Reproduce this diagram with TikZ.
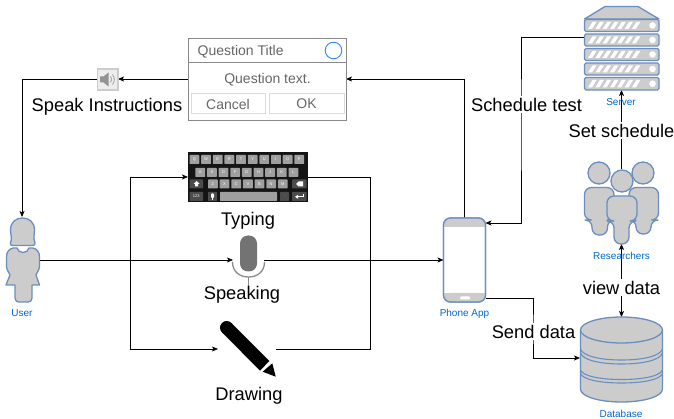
\documentclass[tikz,border=0pt]{standalone}
\usepackage{fontspec}
\setmainfont{Liberation Sans}
\usetikzlibrary{arrows.meta}
\definecolor{iconline}{HTML}{6C8EBF}
\definecolor{iconfill}{HTML}{CCCCCC}
\definecolor{labelblue}{HTML}{0066CC}
\definecolor{dlgtext}{HTML}{666666}
\definecolor{dlgline}{HTML}{888888}
\tikzset{
  conn/.style={draw=black,line width=0.7pt,-{Stealth[length=6pt,width=5pt,inset=1.5pt]}},
  plainline/.style={draw=black,line width=0.7pt},
  anchorbox/.style={inner sep=0pt,outer sep=0pt},
  biglabel/.style={font=\fontsize{18.3}{21}\selectfont,text=black,inner sep=1.5pt},
  biglabelw/.style={biglabel,fill=white},
  smalllabel/.style={font=\fontsize{10}{11}\selectfont,text=labelblue,inner sep=0pt},
  icon/.style={draw=iconline,fill=iconfill,line width=1.3pt,line join=round},
  dlgtxt/.style={font=\fontsize{14}{16}\selectfont,text=dlgtext,inner sep=0pt},
  keycap/.style={fill=#1,rounded corners=0.6pt},
  keytxt/.style={font=\fontsize{4}{4}\selectfont,text=white,inner sep=0pt},
}
\begin{document}
\begin{tikzpicture}[x=1pt,y=-1pt]
\useasboundingbox (0,0) rectangle (674,419);
% anchors
\node[anchorbox,minimum width=157.5pt,minimum height=82pt] (dialog) at (267.25,79) {};
\node[anchorbox,minimum width=21pt,minimum height=21pt] (speaker) at (107.5,79) {};
\node[anchorbox,minimum width=34pt,minimum height=86pt] (user) at (23,260) {};
\node[anchorbox,minimum width=120pt,minimum height=50pt] (keyboard) at (248,177) {};
\node[anchorbox,minimum width=31pt,minimum height=40pt] (mic) at (248.5,260) {};
\node[anchorbox,minimum width=58pt,minimum height=56pt] (pen) at (247,349) {};
\node[anchorbox,minimum width=42pt,minimum height=84pt] (phone) at (464.5,260) {};
\node[anchorbox,minimum width=75pt,minimum height=84pt] (server) at (621.5,48) {};
\node[anchorbox,minimum width=75pt,minimum height=75pt] (researchers) at (621.5,206.5) {};
\node[anchorbox,minimum width=83pt,minimum height=85pt] (database) at (621.5,359.5) {};
\coordinate (srvport) at (584,37);
\coordinate (phonein) at (485.5,223);
\coordinate (phoneout) at (485.5,298);
\coordinate (dbin) at (580,358);
\coordinate (leftbus) at (130,260);
\coordinate (rightbus) at (370,260);
\coordinate (userport) at (22,217);
\coordinate (schedbus) at (521,120);
\coordinate (sendbus) at (533,330);
% connectors
\draw[conn] (dialog.west) -- (speaker.east);
\draw[conn] (speaker.west) -| (userport);
\draw[conn] (user.east) -- (mic.west);
\draw[conn] (mic.east) -- (phone.west);
\draw[conn] (leftbus) |- (keyboard.west);
\draw[conn] (leftbus) |- (pen.west);
\draw[plainline] (keyboard.east) -| (rightbus);
\draw[plainline] (pen.east) -| (rightbus);
\draw[conn] (phone.north) |- (dialog.east);
\draw[conn] (srvport) -| (schedbus) |- (phonein);
\draw[conn] (phoneout) -| (sendbus) |- (dbin);
\draw[conn] (researchers.north) -- (server.south);
\draw[conn,{Stealth[length=6pt,width=5pt,inset=1.5pt]}-{Stealth[length=6pt,width=5pt,inset=1.5pt]}] (researchers.south) -- (database.north);
% dialog
\draw[draw=dlgline,fill=white,line width=0.9pt] (188.5,38) rectangle (346,120);
\draw[draw=dlgline,line width=0.9pt] (188.5,62.5) -- (346,62.5);
\draw[draw=iconfill!70,fill=white,line width=1pt] (191,93.5) rectangle (265,113.5);
\draw[draw=iconfill!70,fill=white,line width=1pt] (269,93.5) rectangle (344,113.5);
\draw[draw=blue!60!cyan!80,line width=0.9pt] (333.5,50.5) circle [radius=8.3];
\node[dlgtxt,anchor=west] (dtitle) at (197.5,51.7) {Question Title};
\node[dlgtxt] (dbody) at (267.5,79.5) {Question text.};
\node[dlgtxt] (dcancel) at (228,104) {Cancel};
\node[dlgtxt] (dok) at (306.5,104) {OK};
% speaker
\draw[draw=iconfill,fill=white!93!black,line width=1.2pt] (97.5,69) rectangle (118,90);
\fill[gray!85] (100,76.5) -- (103.5,76.5) -- (108.5,72.5) -- (108.5,86.5) -- (103.5,82.5) -- (100,82.5) -- cycle;
\draw[gray!70,line width=0.9pt] (110.5,76.5) .. controls (112,78.5) and (112,80.5) .. (110.5,82.5);
\draw[gray!70,line width=0.9pt] (112.5,74.5) .. controls (115,78) and (115,81) .. (112.5,84.5);
% user
\path[icon] (10.5,243) .. controls (12.5,238) and (10.5,234) .. (10.5,230) .. controls (10.5,222) and (16,218) .. (22.5,218) .. controls (29,218) and (34.5,222) .. (34.5,230) .. controls (34.5,234) and (33,238) .. (35,243) .. controls (35.5,245) and (34,245.5) .. (32,245.5) -- (13,245.5) .. controls (11,245.5) and (10,245) .. (10.5,243) -- cycle;
\path[icon] (13,248) -- (17,248) .. controls (18,254) and (28,254) .. (29,248) -- (33,248) .. controls (37,249) and (39.5,252) .. (39.5,257) -- (39.5,266) .. controls (39.5,270) and (37,272) .. (36,275) -- (39.5,285) -- (32,285) -- (32,298) .. controls (32,301) and (30,302) .. (28,302) -- (19,302) .. controls (17,302) and (15,301) .. (15,298) -- (15,285) -- (6,285) -- (10,275) .. controls (9,272) and (6.5,270) .. (6.5,266) -- (6.5,257) .. controls (6.5,252) and (9,249) .. (13,248) -- cycle;
% keyboard
\fill[black!92] (188,152) rectangle (308,202);
\foreach \n [count=\i from 0] in {Q,W,E,R,T,Y,U,I,O,P}{
  \fill[keycap=gray!75] ({189.5+11.65*\i},155) rectangle ++(9.8,9);
  \node[keytxt] (kq\i) at ({194.4+11.65*\i},159.5) {\n};
}
\foreach \n [count=\i from 0] in {A,S,D,F,G,H,J,K,L}{
  \fill[keycap=gray!75] ({195.3+11.65*\i},168) rectangle ++(9.8,9);
  \node[keytxt] (ka\i) at ({200.2+11.65*\i},172.5) {\n};
}
\fill[keycap=black!70] (189.5,179.5) rectangle (203,188.5);
\fill[white] (193.5,184) -- (196.5,181) -- (199.5,184) -- (198,184) -- (198,186.5) -- (195,186.5) -- (195,184) -- cycle;
\foreach \n [count=\i from 0] in {Z,X,C,V,B,N,M}{
  \fill[keycap=gray!75] ({208+11.65*\i},179.5) rectangle ++(9.8,9);
  \node[keytxt] (kz\i) at ({212.9+11.65*\i},184) {\n};
}
\fill[keycap=black!70] (292,179.5) rectangle (306.5,188.5);
\fill[white] (296,184) -- (298.5,181.5) -- (303,181.5) -- (303,186.5) -- (298.5,186.5) -- cycle;
\fill[keycap=black!70] (189.5,192) rectangle (203,201);
\node[keytxt] (k123) at (196.2,196.5) {123};
\fill[keycap=black!70] (208,192) rectangle (217,201);
\fill[white,rounded corners=0.8pt] (211,193.5) rectangle (214,198);
\draw[white,line width=0.5pt] (212.5,198) -- (212.5,200);
\fill[keycap=gray!75] (220,192) rectangle (277,201);
\fill[keycap=black!70] (280,192) rectangle (289,201);
\node[keytxt] (kdot) at (284.5,196.5) {.};
\fill[keycap=black!70] (292,192) rectangle (306.5,201);
\draw[white,line width=0.7pt] (303,194.5) -- (303,196.8) -- (296,196.8);
\fill[white] (298,194.8) -- (295,196.8) -- (298,198.8) -- cycle;
% microphone
\draw[black!45,line width=1.3pt] (232.5,262) .. controls (232.5,272) and (240,277) .. (248.5,277) .. controls (257,277) and (264.5,272) .. (264.5,262);
\draw[black!45,line width=1.3pt] (248.5,277) -- (248.5,286);
\fill[black!55,rounded corners=8pt] (240,235.5) rectangle (257,271.5);
% pen
\fill[black] (231.4,323) -- (269.4,361) -- (260,370.6) -- (222,332.4) -- cycle;
\fill[black] (226.7,327.7) circle [radius=6.7];
\fill[black] (262.7,371.7) -- (272.3,363.3) -- (275.7,376.7) -- cycle;
% phone
\path[icon,fill=white,rounded corners=7pt] (443.5,218) rectangle (485.5,302);
\fill[iconfill,rounded corners=6pt] (444.2,218.7) -- (444.2,227) -- (484.8,227) -- (484.8,218.7) -- cycle;
\fill[iconfill,rounded corners=6pt] (444.2,301.3) -- (444.2,293) -- (484.8,293) -- (484.8,301.3) -- cycle;
\fill[iconfill] (444.2,224) rectangle (484.8,227);
\fill[iconfill] (444.2,293) rectangle (484.8,296);
\path[draw=iconline,line width=1.3pt,rounded corners=7pt] (443.5,218) rectangle (485.5,302);
\fill[white,rounded corners=1pt] (460,296.5) rectangle (470,299.5);
% server
\path[icon] (584.5,19) -- (605,6.5) -- (638,6.5) -- (659,19) -- cycle;
\foreach \t/\b in {19.5/31.5,34/46,48.5/60.5,63/75,77.5/90}{
  \path[icon,rounded corners=1.5pt] (584.5,\t) rectangle (659,\b);
  \foreach \k in {0,...,6}{
    \fill[white] ({588+\k*7.3},{\b-2.5}) -- ({592.5+\k*7.3},{\t+2.5}) -- ({596.5+\k*7.3},{\t+2.5}) -- ({592+\k*7.3},{\b-2.5}) -- cycle;
  }
  \fill[white] (652.5,{(\t+\b)/2}) circle [radius=3.3];
}
% researchers
\path[icon] (599,173) circle [radius=11];
\path[icon] (643,173) circle [radius=11];
\path[icon,rounded corners=7pt] (584.5,187.5) -- (614,187.5) -- (614,220) -- (607.5,220) -- (607.5,235) -- (592,235) -- (592,220) -- (584.5,220) -- cycle;
\path[icon,rounded corners=7pt] (629,187.5) -- (658.5,187.5) -- (658.5,220) -- (651,220) -- (651,234) -- (636,234) -- (636,220) -- (629,220) -- cycle;
\path[icon,rounded corners=7pt] (607,196) -- (637,196) -- (637,221) -- (629,221) -- (629,244) -- (614,244) -- (614,221) -- (607,221) -- cycle;
\path[icon] (622,181) circle [radius=11];
% database
\path[icon] (580.5,330) -- (580.5,389) .. controls (580.5,396.5) and (599,402) .. (621.5,402) .. controls (644,402) and (662.5,396.5) .. (662.5,389) -- (662.5,330) -- cycle;
\path[icon] (621.5,330) ellipse [x radius=41,y radius=13];
\foreach \yy/\dd in {349/11,353/11,370/9.5,373.5/9.5}{
  \draw[draw=iconline,line width=1.1pt] (580.5,\yy) .. controls (583,{\yy+0.65*\dd}) and (600,\yy+\dd) .. (621.5,\yy+\dd) .. controls (643,\yy+\dd) and (660,{\yy+0.65*\dd}) .. (662.5,\yy);
}
% labels
\node[biglabelw] (lspeak) at (107,107) {Speak Instructions};
\node[biglabelw] (lsched) at (526.5,104.5) {Schedule test};
\node[biglabelw] (lset) at (621.5,130.5) {Set schedule};
\node[biglabelw] (lview) at (621.5,287.5) {view data};
\node[biglabelw] (lsend) at (533.5,331.5) {Send data};
\node[biglabel] (ltype) at (248,221) {Typing};
\node[biglabel] (lspeaking) at (242,295) {Speaking};
\node[biglabel] (ldraw) at (249,395.5) {Drawing};
\node[smalllabel] (luser) at (22,313.5) {User};
\node[smalllabel] (lphone) at (464.5,313.5) {Phone App};
\node[smalllabel] (lserver) at (621,102) {Server};
\node[smalllabel] (lres) at (621.5,256) {Researchers};
\node[smalllabel] (ldb) at (621,413.5) {Database};
\end{tikzpicture}
\end{document}
